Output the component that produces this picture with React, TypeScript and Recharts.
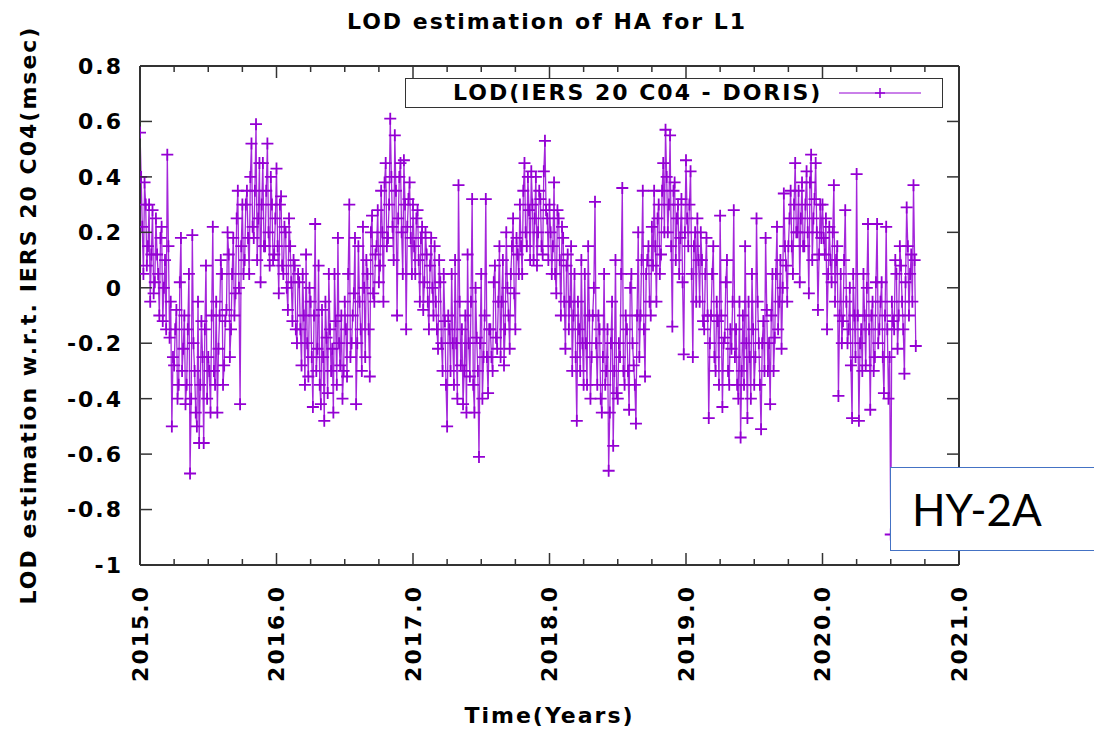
import { LineChart, Line, XAxis, YAxis, Legend } from 'recharts';

// LOD residuals: main samples every 1/60 yr, plus the in-between samples
const years = [2015, 2016, 2017, 2018, 2019, 2020];
const samplesPerYear = 60;

const lod2015 = [
  0.56, 0.22, 0.38, 0.08, 0.3, 0.12, -0.02, 0.25, 0.05, 0.18, -0.12, 0.1, 0.48, -0.18, -0.5,
  -0.28, -0.08, -0.35, 0.18, -0.22, -0.42, -0.15, -0.67, 0.19, -0.3, -0.5, -0.56, -0.12, -0.56, 0.08, -0.25,
  -0.45, 0.22, -0.35, -0.45, -0.1, 0.05, -0.28, -0.08, 0.12, -0.15, 0.18, -0.02, 0.35, -0.42, 0.3,
  0.1, 0.35, 0.05, 0.52, 0.18, 0.59, 0.25, 0.02, 0.45, 0.15, 0.52, 0.08, 0.3, 0.12,
];
const lod2015mid = [
  0.4, 0.05, 0.3, 0.15, -0.05, 0.28, 0.02, 0.12, -0.1, 0.22, 0.0, -0.15, 0.15, -0.05, -0.25,
  -0.15, -0.4, 0.02, -0.3, -0.1, -0.35, 0.05, -0.4, -0.2, -0.45, -0.05, -0.35, -0.25, -0.15, -0.4, -0.3,
  -0.1, -0.3, -0.05, -0.22, 0.1, -0.35, -0.12, 0.2, -0.25, 0.05, -0.1, 0.25, 0.0, 0.15, 0.05,
  0.3, 0.18, 0.4, 0.22, 0.35, 0.1, 0.45, 0.3, 0.15, 0.35, 0.2, 0.4, 0.1, 0.25,
];
const lod2016 = [
  0.43, -0.02, 0.33, 0.05, 0.2, -0.08, 0.15, -0.12, 0.08, -0.2,
  0.02, -0.28, -0.1, 0.12, -0.32, -0.05, -0.43, 0.23, -0.22, -0.35, -0.08, -0.48, -0.18, 0.05, -0.3, -0.45, -0.12, 0.18, -0.28, -0.4, -0.05,
  -0.32, 0.3, -0.2, -0.02, -0.42, 0.15, -0.15, 0.22, -0.25, 0.05, -0.32, 0.26, -0.05, 0.15, 0.02,
  0.35, -0.05, 0.45, 0.18, 0.61, 0.22, 0.55, -0.1, 0.4, 0.2, 0.46, -0.15, 0.32, 0.18,
];
const lod2016mid = [
  0.15, 0.3, 0.08, 0.22, 0.0, 0.25, 0.02, 0.1, -0.15, 0.05,
  -0.15, 0.05, -0.35, -0.2, 0.0, -0.25, -0.1, -0.3, 0.08, -0.42, -0.25, -0.05, -0.38, -0.15, -0.22, 0.05, -0.35, -0.2, -0.1, -0.3, -0.15,
  0.05, -0.25, -0.1, 0.18, -0.2, -0.05, -0.3, 0.0, 0.1, -0.15, 0.2, -0.02, 0.12, 0.28, 0.08,
  0.2, 0.38, 0.15, 0.3, 0.4, 0.1, 0.35, 0.25, 0.45, 0.05, 0.3, 0.22, 0.38, 0.05,
];
const lod2017 = [
  0.3, 0.05, 0.28, -0.05, 0.22, 0.02, 0.12, -0.15, 0.18, -0.1,
  -0.05, -0.22, 0.02, -0.3, -0.12,
  -0.5, -0.15, 0.05, -0.35, -0.2, 0.37, -0.28, -0.42, -0.1, 0.12, -0.32, 0.32, -0.45, -0.18, -0.61, 0.05, -0.25, 0.32, -0.38,
  -0.15, -0.3, 0.08, -0.22, 0.15, -0.05, -0.28, 0.2, -0.1, 0.05, 0.25, -0.15, 0.12,
  0.3, 0.05, 0.45, 0.15, 0.28, 0.42, 0.1, 0.4, 0.2, 0.32, 0.12, 0.53, 0.25,
];
const lod2017mid = [
  0.15, 0.25, 0.1, 0.18, -0.08, 0.2, -0.05, 0.08, 0.0, 0.15,
  -0.15, 0.1, -0.2, 0.05, -0.35,
  -0.1, -0.3, -0.2, 0.1, -0.4, -0.05, -0.15, -0.3, -0.45, -0.2, -0.05, -0.35, 0.0, -0.3, -0.2, -0.4, -0.1, -0.25, -0.15,
  -0.25, 0.02, -0.18, -0.05, -0.25, 0.1, -0.15, 0.0, -0.22, 0.15, -0.02, 0.18, 0.05,
  0.15, 0.35, 0.2, 0.4, 0.1, 0.3, 0.25, 0.08, 0.35, 0.15, 0.42, 0.28, 0.1,
];
const lod2018 = [
  0.3, 0.05, 0.38, -0.02, 0.25, -0.1, 0.18, -0.22, 0.12, -0.05,
  -0.3, 0.05, -0.48, -0.15, 0.1, -0.35, -0.2, 0.15, -0.4, -0.1, 0.31,
  -0.35, -0.15, -0.45, 0.05, -0.3, -0.66, -0.2, -0.57, 0.1, -0.4, -0.25, 0.36, -0.35,
  -0.15, -0.44, 0.05, -0.28, -0.49, 0.2, -0.1, 0.35, -0.32, 0.1, -0.05, 0.22,
  0.35, -0.05, 0.3, 0.12, 0.45, 0.57, 0.2, 0.55, -0.14, 0.38, 0.25, 0.05, 0.32, -0.24,
];
const lod2018mid = [
  0.2, 0.15, 0.05, 0.28, 0.1, 0.22, -0.05, 0.08, -0.15, 0.15,
  -0.1, -0.25, -0.05, -0.3, -0.2, 0.05, -0.35, -0.1, -0.25, 0.0, -0.2,
  -0.1, -0.4, -0.25, -0.35, -0.15, -0.45, -0.05, -0.3, -0.38, -0.2, 0.05, -0.3, -0.1,
  -0.3, 0.0, -0.2, -0.35, -0.1, -0.25, 0.1, -0.15, 0.05, 0.15, -0.1, 0.08,
  0.15, 0.25, 0.05, 0.35, 0.2, 0.4, 0.3, 0.15, 0.35, 0.1, 0.3, 0.18, 0.02, 0.2,
];
const lod2019 = [
  0.46, 0.15, 0.42, -0.25, 0.2, 0.25, -0.05, 0.1, -0.15, 0.18,
  -0.47, -0.1, 0.15, -0.3, -0.12, 0.26, -0.43, -0.18, 0.1, -0.35, -0.22, 0.28, -0.15, -0.4, -0.54,
  -0.1, 0.15, -0.47, -0.25, 0.05, -0.35, 0.25, -0.2, -0.51,
  -0.12, 0.18, -0.3, -0.42, 0.05, -0.18, 0.22, -0.05, -0.22, 0.34, 0.08, 0.15,
  0.35, 0.05, 0.45, 0.2, 0.02, 0.38, 0.15, 0.42, -0.02, 0.48, 0.25, 0.45, -0.08, 0.3,
];
const lod2019mid = [
  0.25, 0.3, 0.05, 0.15, -0.05, 0.1, 0.2, -0.12, 0.05, -0.1,
  -0.2, 0.05, -0.25, -0.05, -0.35, -0.1, -0.2, 0.02, -0.3, -0.15, -0.05, -0.25, -0.35, -0.05, -0.3,
  -0.35, -0.2, -0.05, -0.4, -0.15, -0.25, -0.05, -0.35, -0.2,
  -0.3, -0.08, -0.2, -0.1, -0.3, 0.05, -0.15, 0.1, 0.0, 0.15, -0.05, 0.25,
  0.15, 0.3, 0.2, 0.35, 0.25, 0.15, 0.3, 0.2, 0.38, 0.1, 0.32, 0.2, 0.12, 0.18,
];
const lod2020 = [
  0.3, 0.12, -0.15, 0.22, 0.02, 0.37, 0.1, -0.39, 0.05, -0.12,
  0.28, -0.2, 0.0, -0.47, -0.1, 0.41, -0.48, -0.15, 0.05, -0.28,
  0.23, -0.44, -0.05, -0.25, 0.23, -0.15, 0.02, -0.38, 0.22, -0.4,
  -0.89, -0.12, 0.1, -0.22, 0.15, -0.05, -0.31, 0.29, -0.1, 0.12, 0.37, -0.21,
];
const lod2020mid = [
  0.18, 0.25, 0.05, 0.1, 0.2, -0.05, 0.15, -0.1, -0.2, 0.1,
  -0.05, -0.15, -0.28, 0.05, -0.25, -0.1, -0.2, -0.3, -0.1, 0.0,
  -0.15, -0.1, -0.3, 0.02, -0.2, -0.05, -0.25, -0.1, -0.15, -0.25,
  -0.05, -0.15, 0.05, -0.1, 0.08, -0.15, 0.02, 0.15, 0.05, -0.05, 0.1,
];
const lodByYear = [lod2015, lod2016, lod2017, lod2018, lod2019, lod2020];
const lodMidByYear = [lod2015mid, lod2016mid, lod2017mid, lod2018mid, lod2019mid, lod2020mid];

const timeTicks = [
  2015, 2015.25, 2015.5, 2015.75, 2016, 2016.25, 2016.5, 2016.75, 2017, 2017.25, 2017.5, 2017.75,
  2018, 2018.25, 2018.5, 2018.75, 2019, 2019.25, 2019.5, 2019.75, 2020, 2020.25, 2020.5, 2020.75, 2021,
];
const lodTicks = [-1, -0.8, -0.6, -0.4, -0.2, 0, 0.2, 0.4, 0.6, 0.8];

const data = years.flatMap((yr, k) =>
  lodByYear[k].flatMap((v, i) => {
    const rows = [{ t: yr + i / samplesPerYear, lod: v }];
    const mid = lodMidByYear[k][i];
    if (mid !== undefined) rows.push({ t: yr + (i + 0.5) / samplesPerYear, lod: mid });
    return rows;
  })
);

const PURPLE = '#9400d3';
const AXIS = '#333';
const FONT = '"DejaVu Sans", sans-serif';
const textStyle = { fontFamily: FONT, fontWeight: 700, fontSize: 22, letterSpacing: 2, fill: '#000' };

const fmtLod = (v: number) => (Math.abs(v) < 1e-9 ? '0' : Number.isInteger(v) ? String(v) : v.toFixed(1));

function BottomTick({ x, y, payload }: any) {
  const v = payload.value;
  const major = v % 1 === 0;
  return (
    <g>
      <line x1={x} x2={x} y1={y} y2={y - (major ? 12 : 6)} stroke={AXIS} strokeWidth={1.5} />
      {major && (
        <text transform={`translate(${x},${y + 20}) rotate(-90)`} textAnchor="end" dy="0.36em" style={textStyle}>
          {v.toFixed(1)}
        </text>
      )}
    </g>
  );
}

function TopTick({ x, y, payload }: any) {
  const major = payload.value % 1 === 0;
  return <line x1={x} x2={x} y1={y} y2={y + (major ? 12 : 6)} stroke={AXIS} strokeWidth={1.5} />;
}

function LeftTick({ x, y, payload }: any) {
  return (
    <g>
      <line x1={x} x2={x + 12} y1={y} y2={y} stroke={AXIS} strokeWidth={1.5} />
      <text x={x - 17} y={y} dy="0.36em" textAnchor="end" style={textStyle}>
        {fmtLod(payload.value)}
      </text>
    </g>
  );
}

function RightTick({ x, y }: any) {
  return <line x1={x} x2={x - 12} y1={y} y2={y} stroke={AXIS} strokeWidth={1.5} />;
}

function PlusDot({ cx, cy }: any) {
  if (cx == null || cy == null) return null;
  return <path d={`M${cx - 6},${cy}H${cx + 6}M${cx},${cy - 6}V${cy + 6}`} stroke={PURPLE} strokeWidth={1.8} fill="none" />;
}

function LegendBox({ payload }: any) {
  const item = payload && payload[0];
  return (
    <div
      style={{
        boxSizing: 'border-box', width: 538, height: 30, border: `1.5px solid ${AXIS}`, background: '#fff',
        display: 'flex', alignItems: 'center',
      }}
    >
      <span style={{ marginLeft: 47, fontFamily: FONT, fontWeight: 700, fontSize: 22, letterSpacing: 2, lineHeight: '22px' }}>
        {item ? item.value : ''}
      </span>
      <svg width={82} height={14} style={{ marginLeft: 17 }}>
        <line x1={0} x2={82} y1={7} y2={7} stroke={PURPLE} strokeWidth={1} />
        <path d="M36,7H46M41,2V12" stroke={PURPLE} strokeWidth={1.5} />
      </svg>
    </div>
  );
}

export default function App() {
  return (
    <div style={{ position: 'absolute', left: 0, top: 0, width: 1094, height: 732, background: '#fff', overflow: 'hidden' }}>
      <LineChart width={1094} height={732} data={data} margin={{ top: 56, right: 125, bottom: 67, left: 80 }}>
        <XAxis
          dataKey="t" type="number" domain={[2015, 2021]} ticks={timeTicks} interval={0} allowDataOverflow
          tickSize={0} tickMargin={0} tickLine={false} axisLine={{ stroke: AXIS, strokeWidth: 2 }}
          tick={(p: any) => <BottomTick {...p} />} height={100}
        />
        <XAxis
          xAxisId="top" orientation="top" dataKey="t" type="number" domain={[2015, 2021]} ticks={timeTicks} interval={0}
          allowDataOverflow tickSize={0} tickMargin={0} tickLine={false} axisLine={{ stroke: AXIS, strokeWidth: 2 }}
          tick={(p: any) => <TopTick {...p} />} height={10}
        />
        <YAxis
          type="number" domain={[-1, 0.8]} ticks={lodTicks} interval={0} allowDataOverflow
          tickSize={0} tickMargin={0} tickLine={false} axisLine={{ stroke: AXIS, strokeWidth: 2 }}
          tick={(p: any) => <LeftTick {...p} />} width={60}
        />
        <YAxis
          yAxisId="right" orientation="right" dataKey="lod" type="number" domain={[-1, 0.8]} ticks={lodTicks} interval={0}
          allowDataOverflow tickSize={0} tickMargin={0} tickLine={false} axisLine={{ stroke: AXIS, strokeWidth: 2 }}
          tick={(p: any) => <RightTick {...p} />} width={10}
        />
        <Legend
          layout="horizontal" verticalAlign="middle" align="center"
          wrapperStyle={{ left: 405, top: 78, width: 538, height: 30 }}
          content={(p: any) => <LegendBox {...p} />}
        />
        <Line
          type="linear" dataKey="lod" name="LOD(IERS 20 C04 - DORIS)" stroke={PURPLE} strokeWidth={1.3} strokeOpacity={0.85}
          dot={(p: any) => <PlusDot key={`d${p.index}`} {...p} />} activeDot={false} isAnimationActive={false}
        />
      </LineChart>

      <div style={{ position: 'absolute', left: 0, width: 1094, top: 11, textAlign: 'center', fontFamily: FONT, fontWeight: 700, fontSize: 22, letterSpacing: 2, lineHeight: '22px' }}>
        LOD estimation of HA for L1
      </div>
      <div style={{ position: 'absolute', left: 140, width: 819, top: 704, textAlign: 'center', fontFamily: FONT, fontWeight: 700, fontSize: 22, letterSpacing: 2, lineHeight: '24px' }}>
        Time(Years)
      </div>
      <div
        style={{
          position: 'absolute', left: 29, top: 315, transform: 'translate(-50%, -50%) rotate(-90deg)', whiteSpace: 'nowrap',
          fontFamily: FONT, fontWeight: 700, fontSize: 22, letterSpacing: 2, lineHeight: '24px',
        }}
      >
        LOD estimation w.r.t. IERS 20 C04(msec)
      </div>
      <div
        style={{
          position: 'absolute', left: 890, top: 467, width: 220, height: 84, boxSizing: 'border-box',
          border: '1.5px solid #4472c4', background: '#fff', display: 'flex', alignItems: 'center',
        }}
      >
        <span style={{ marginLeft: 21, fontFamily: 'Lato, sans-serif', fontSize: 44, color: '#000', lineHeight: '44px' }}>HY-2A</span>
      </div>
    </div>
  );
}
